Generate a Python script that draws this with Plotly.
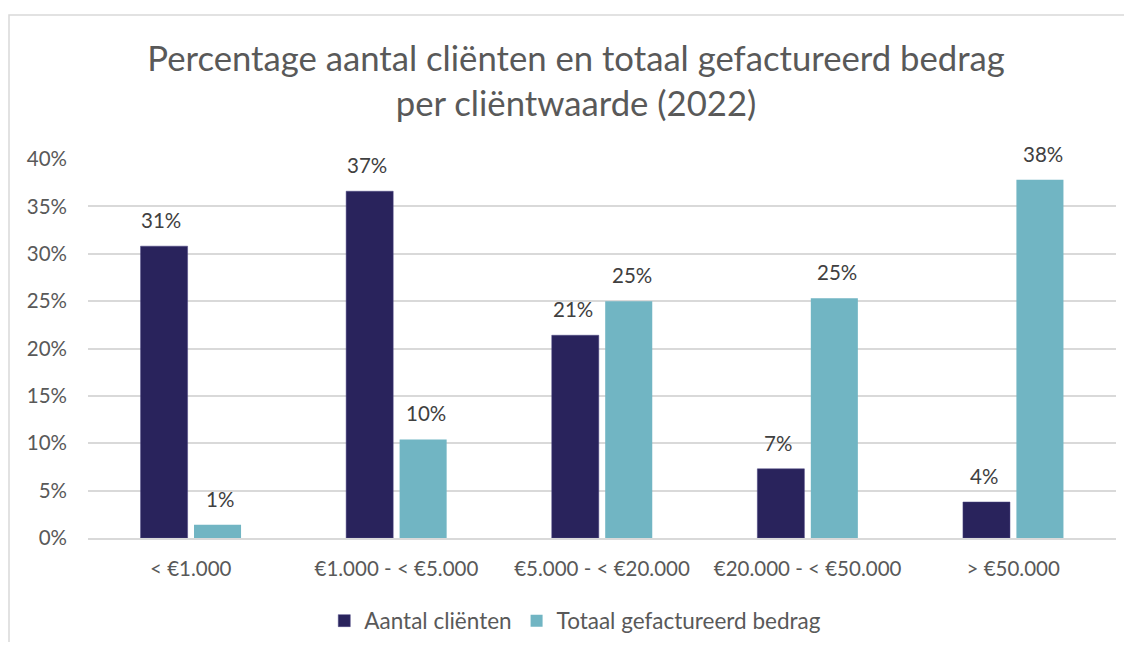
import plotly.graph_objects as go

categories = ["< €1.000", "€1.000 - < €5.000", "€5.000 - < €20.000", "€20.000 - < €50.000", "> €50.000"]
aantal_clienten = [0.308, 0.366, 0.214, 0.073, 0.038]
totaal_bedrag = [0.014, 0.104, 0.250, 0.253, 0.378]
series_names = ["Aantal cliënten", "Totaal gefactureerd bedrag"]
y_ticks = [0, 0.05, 0.10, 0.15, 0.20, 0.25, 0.30, 0.35, 0.40]
y_ticklabels = ["0%", "5%", "10%", "15%", "20%", "25%", "30%", "35%", "40%"]

DARK = "#29235C"
TEAL = "#71B5C3"
TEXT = "#595959"
FONT = "Lato, Carlito, Calibri, sans-serif"

W, H = 1116, 634
ML, MR, MT, MB = 80, 8, 151, 104
PH = H - MT - MB

fig = go.Figure()
fig.add_trace(go.Bar(x=categories, y=aantal_clienten, name=series_names[0],
                     marker=dict(color=DARK, line=dict(color="#4a4580", width=0.5))))
fig.add_trace(go.Bar(x=categories, y=totaal_bedrag, name=series_names[1],
                     marker=dict(color=TEAL, line=dict(width=0))))

annotations = []
for series, shift in ((aantal_clienten, -29.5), (totaal_bedrag, 29.5)):
    for c, v in zip(categories, series):
        annotations.append(dict(x=c, y=v, xref="x", yref="y", text=f"{round(v*100):.0f}%",
                                showarrow=False, xshift=shift, yshift=26,
                                font=dict(family=FONT, size=20.5, color="#404040")))

fig.update_layout(
    width=W, height=H,
    margin=dict(l=ML, r=MR, t=MT, b=MB, autoexpand=False),
    paper_bgcolor="white", plot_bgcolor="white",
    font=dict(family=FONT, color=TEXT),
    title=dict(text="Percentage aantal cliënten en totaal gefactureerd bedrag<br>per cliëntwaarde (2022)",
               x=0.509, xanchor="center", y=1 - 63 / H, yanchor="top",
               font=dict(family=FONT, size=34.7, color=TEXT)),
    barmode="group", bargap=0.48, bargroupgap=0.12,
    showlegend=True,
    legend=dict(orientation="h", x=0.474, xanchor="center", y=-83 / PH, yanchor="middle",
                font=dict(family=FONT, size=22.5, color=TEXT),
                traceorder="normal"),
    annotations=annotations,
    shapes=[dict(type="rect", xref="paper", yref="paper",
                 x0=(1 - ML) / 1028, x1=1.05, y0=-0.4, y1=1 + (MT - 7) / PH,
                 line=dict(color="#D9D9D9", width=1.5), fillcolor="rgba(0,0,0,0)", layer="below")],
)
fig.update_xaxes(showgrid=False, showline=True, linecolor="#D9D9D9", linewidth=1.5,
                 ticks="", tickfont=dict(family=FONT, size=20.5, color=TEXT), ticklabelstandoff=12)
fig.update_yaxes(range=[0, 0.4], tickvals=y_ticks, ticktext=y_ticklabels,
                 showgrid=True, gridcolor="#D9D9D9", gridwidth=1.5, zeroline=False,
                 showline=False, ticks="", tickfont=dict(family=FONT, size=20.5, color=TEXT),
                 ticklabelstandoff=20)

fig.write_html("out.html")
